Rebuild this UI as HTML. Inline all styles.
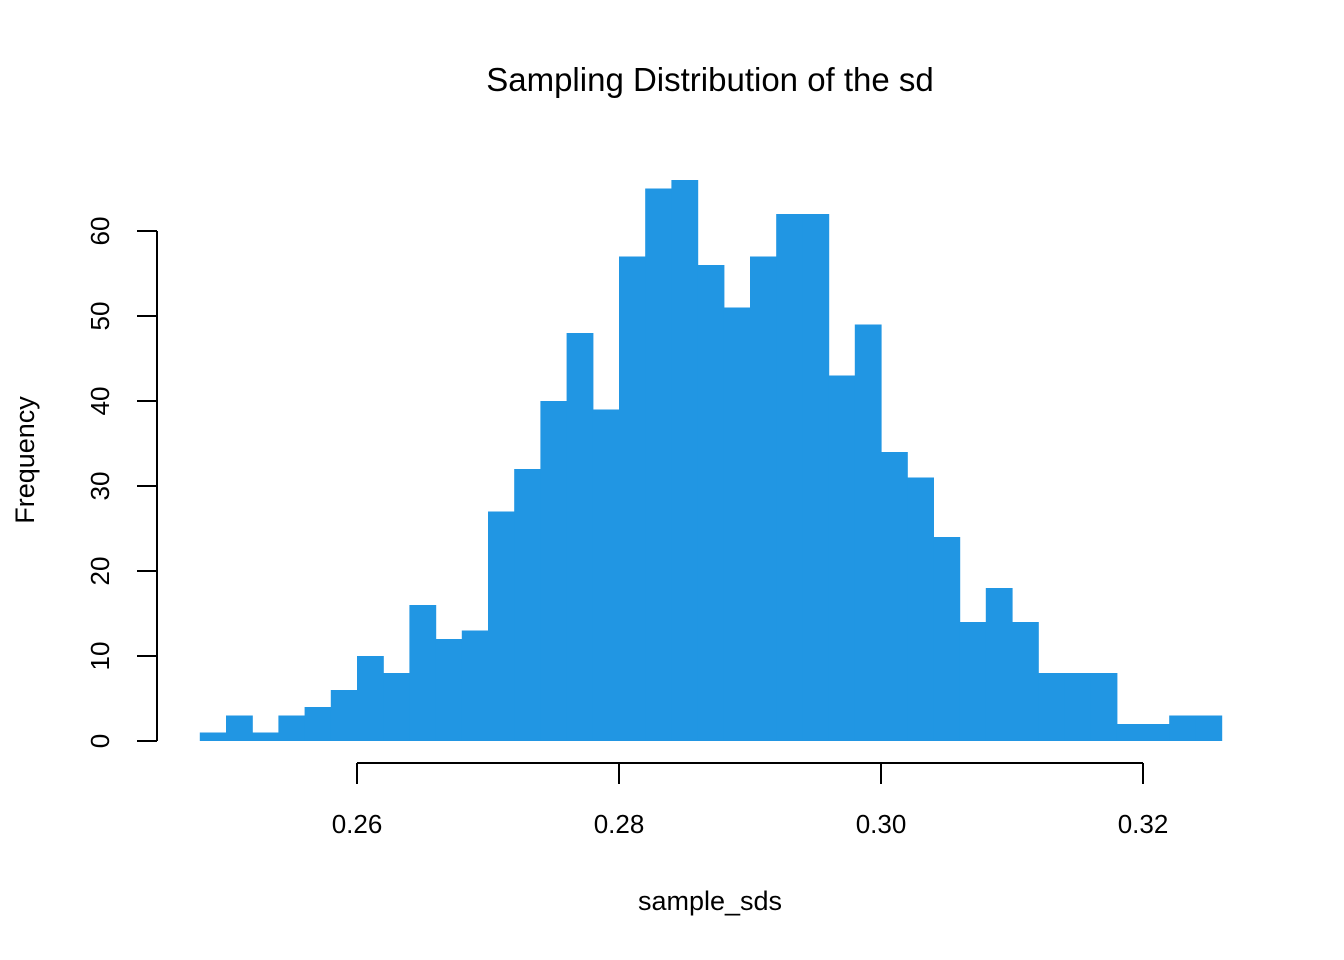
<!DOCTYPE html>
<html><head><meta charset="utf-8"><style>
html,body{margin:0;padding:0;background:#fff}
svg{display:block;font-family:"Liberation Sans",Arial,sans-serif}
</style></head><body>
<svg id="chart" width="1344" height="960">
<text x="710" y="91" text-anchor="middle" font-size="33">Sampling Distribution of the sd</text>
<text x="710" y="910" text-anchor="middle" font-size="27">sample_sds</text>
<text transform="translate(34,460) rotate(-90)" text-anchor="middle" font-size="27">Frequency</text>
<g id="bars"></g><g id="axes"></g>
</svg>
<script>
const binStart = 0.248;
const binWidth = 0.002;
const counts = [1,3,1,3,4,6,10,8,16,12,13,27,32,40,48,39,57,65,66,56,51,57,62,62,43,49,34,31,24,14,18,14,8,8,8,2,2,3,3];
const xTicks = [0.26,0.28,0.30,0.32];
const xTickLabels = ["0.26","0.28","0.30","0.32"];
const yTicks = [0,10,20,30,40,50,60];
const NS="http://www.w3.org/2000/svg";
const xs = v => 357 + (v-0.26)*13100;
const ys = v => 741 - v*8.5;
const bars=document.getElementById('bars'), axes=document.getElementById('axes');
function mk(tag,attrs,parent){const e=document.createElementNS(NS,tag);for(const k in attrs)e.setAttribute(k,attrs[k]);parent.appendChild(e);return e;}
counts.forEach((c,i)=>{
  const x0=xs(binStart+i*binWidth), x1=xs(binStart+(i+1)*binWidth);
  const r=mk('rect',{x:x0,y:ys(c),width:x1-x0+0.6,height:ys(0)-ys(c),fill:'#2196e3'},bars);
  
  
});
const xl=mk('line',{x1:xs(xTicks[0]),x2:xs(xTicks[xTicks.length-1]),y1:763,y2:763,stroke:'#000','stroke-width':2},axes);


xTicks.forEach((t,i)=>{
  const l=mk('line',{x1:xs(t),x2:xs(t),y1:763,y2:784,stroke:'#000','stroke-width':2},axes);
  
  
  const tx=mk('text',{x:xs(t),y:833,'text-anchor':'middle','font-size':26},axes);
  tx.textContent=xTickLabels[i];
  
  
});
const yl=mk('line',{x1:157,x2:157,y1:ys(yTicks[yTicks.length-1]),y2:ys(0),stroke:'#000','stroke-width':2},axes);


yTicks.forEach(t=>{
  const l=mk('line',{x1:137,x2:157,y1:ys(t),y2:ys(t),stroke:'#000','stroke-width':2},axes);
  
  
  const tx=mk('text',{transform:`translate(109,${ys(t)}) rotate(-90)`,'text-anchor':'middle','font-size':26},axes);
  tx.textContent=String(t);
  
  
});
</script>
</body></html>
